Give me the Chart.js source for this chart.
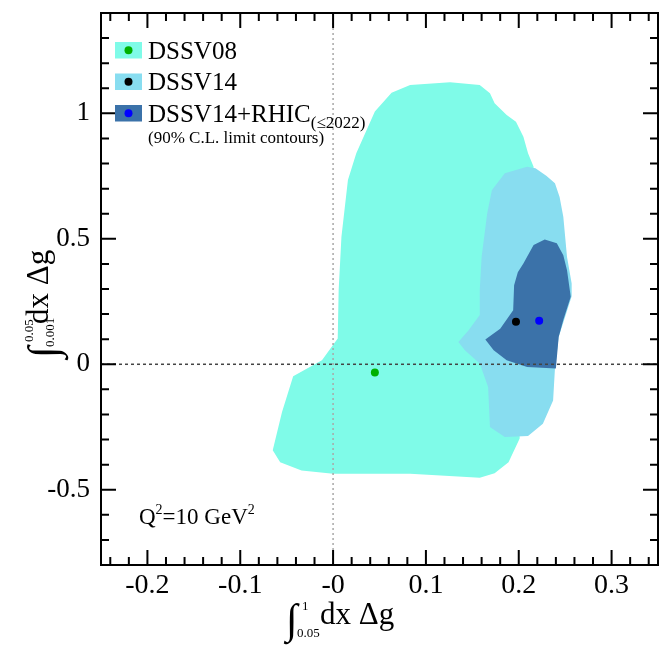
<!DOCTYPE html>
<html lang="en">
<head>
    <meta charset="UTF-8">
    <title>Gluon polarization contours</title>
    <script src="https://cdn.jsdelivr.net/npm/chart.js"></script>
    <style>
        body { margin: 0; background: #fff; }
        .chart-container { width: 672px; height: 647px; position: relative; }
    </style>
</head>
<body>
    <div class="chart-container"><canvas id="contourChart"></canvas></div>

    <script>
        // axis ticks
        const xTickValues = [-0.2, -0.1, 0, 0.1, 0.2, 0.3];
        const xTickLabels = ['-0.2', '-0.1', '-0', '0.1', '0.2', '0.3'];
        const yTickValues = [-0.5, 0, 0.5, 1];
        const yTickLabels = ['-0.5', '0', '0.5', '1'];

        // 90% C.L. contours
        const dssv08X = [0.005, 0.006, 0.009, 0.016, 0.025, 0.045, 0.063, 0.083, 0.126, 0.158, 0.169, 0.174, 0.187, 0.197, 0.205, 0.210, 0.216, 0.212, 0.201, 0.201, 0.189, 0.174, 0.158, 0.083, 0.000, -0.034, -0.057, -0.065, -0.055, -0.043, -0.012];
        const dssv08Y = [0.103, 0.295, 0.508, 0.734, 0.841, 1.007, 1.082, 1.113, 1.124, 1.113, 1.080, 1.040, 0.993, 0.967, 0.907, 0.841, 0.787, 0.455, -0.144, -0.296, -0.390, -0.434, -0.452, -0.436, -0.436, -0.423, -0.390, -0.343, -0.190, -0.048, 0.016];

        const dssv14X = [0.158, 0.158, 0.160, 0.166, 0.171, 0.185, 0.209, 0.218, 0.230, 0.239, 0.244, 0.248, 0.252, 0.257, 0.257, 0.243, 0.239, 0.237, 0.226, 0.210, 0.185, 0.169, 0.167, 0.158, 0.142, 0.135, 0.146];
        const dssv14Y = [0.196, 0.295, 0.428, 0.601, 0.694, 0.761, 0.787, 0.781, 0.750, 0.721, 0.667, 0.588, 0.428, 0.322, 0.271, 0.109, -0.017, -0.144, -0.237, -0.286, -0.290, -0.250, -0.091, 0.003, 0.056, 0.089, 0.136];

        const rhicX = [0.180, 0.194, 0.195, 0.199, 0.205, 0.216, 0.228, 0.241, 0.248, 0.252, 0.256, 0.248, 0.243, 0.240, 0.209, 0.187, 0.173, 0.164];
        const rhicY = [0.142, 0.215, 0.315, 0.367, 0.402, 0.475, 0.497, 0.482, 0.435, 0.375, 0.269, 0.176, 0.109, -0.017, -0.011, 0.016, 0.056, 0.099];

        // central values
        const dssv08Best = [0.045, -0.033];
        const dssv14Best = [0.197, 0.169];
        const rhicBest = [0.222, 0.173];

        const serif = '"Liberation Serif", "Times New Roman", serif';
        const colors = {
            dssv08: '#7ffbe8',
            dssv14: '#88ddf0',
            rhic: '#3b72a9'
        };

        function polygon(xs, ys) {
            const pts = xs.map((x, i) => ({x: x, y: ys[i]}));
            pts.push({x: xs[0], y: ys[0]});
            return pts;
        }

        function contour(label, xs, ys, color) {
            return {
                label: label,
                data: polygon(xs, ys),
                showLine: true,
                fill: 'shape',
                backgroundColor: color,
                borderColor: 'rgba(0,0,0,0)',
                borderWidth: 0,
                pointRadius: 0,
                tension: 0
            };
        }

        function bestPoint(label, p, color) {
            return {
                label: label,
                data: [{x: p[0], y: p[1]}],
                pointRadius: 4,
                pointBackgroundColor: color,
                pointBorderWidth: 0,
                borderColor: color
            };
        }

        function drawIntegralTitle(ctx, upper, lower, upperDy, lowerDy) {
            ctx.fillStyle = '#000';
            ctx.textAlign = 'left';
            ctx.textBaseline = 'alphabetic';
            ctx.font = '42px ' + serif;
            ctx.fillText('\u222B', -1, 9);
            ctx.font = '13px ' + serif;
            ctx.fillText(upper, 15, upperDy);
            ctx.fillText(lower, 10, lowerDy);
            ctx.font = '31px ' + serif;
            ctx.fillText('dx \u0394g', 33, 0);
        }

        const decorations = {
            id: 'decorations',
            afterDatasetsDraw(chart) {
                const {ctx, chartArea: a, scales: {x, y}} = chart;
                ctx.save();
                ctx.lineWidth = 1.5;
                const x0 = x.getPixelForValue(0);
                ctx.strokeStyle = '#a8a8a8';
                ctx.setLineDash([2, 3]);
                ctx.beginPath();
                ctx.moveTo(x0, a.top);
                ctx.lineTo(x0, a.bottom);
                ctx.stroke();
                const y0 = y.getPixelForValue(0);
                ctx.strokeStyle = '#444';
                ctx.setLineDash([3, 3]);
                ctx.beginPath();
                ctx.moveTo(a.left, y0);
                ctx.lineTo(a.right, y0);
                ctx.stroke();
                ctx.restore();
            },
            afterDraw(chart) {
                const {ctx, chartArea: a, scales: {x, y}} = chart;
                ctx.save();

                // frame with inward ticks on all four sides
                ctx.strokeStyle = '#000';
                ctx.lineWidth = 2;
                ctx.strokeRect(a.left, a.top, a.right - a.left, a.bottom - a.top);
                ctx.beginPath();
                for (let i = -12; i <= 17; i++) {
                    const v = i * 0.02;
                    const px = x.getPixelForValue(v);
                    const len = (i % 5 === 0) ? 15 : 8;
                    ctx.moveTo(px, a.bottom); ctx.lineTo(px, a.bottom - len);
                    ctx.moveTo(px, a.top); ctx.lineTo(px, a.top + len);
                }
                for (let i = -7; i <= 13; i++) {
                    const v = i * 0.1;
                    const py = y.getPixelForValue(v);
                    const len = (i % 5 === 0) ? 15 : 8;
                    ctx.moveTo(a.left, py); ctx.lineTo(a.left + len, py);
                    ctx.moveTo(a.right, py); ctx.lineTo(a.right - len, py);
                }
                ctx.stroke();

                // legend
                const rows = [
                    {text: 'DSSV08', fill: colors.dssv08, dot: '#00b000'},
                    {text: 'DSSV14', fill: colors.dssv14, dot: '#000'},
                    {text: 'DSSV14+RHIC', fill: colors.rhic, dot: '#0000ff'}
                ];
                const lx = a.left + 14;
                rows.forEach((r, i) => {
                    const top = a.top + 29 + i * 31.5;
                    ctx.fillStyle = r.fill;
                    ctx.fillRect(lx, top, 27, 16.5);
                    ctx.fillStyle = r.dot;
                    ctx.beginPath();
                    ctx.arc(lx + 13.5, top + 8.2, 4, 0, Math.PI * 2);
                    ctx.fill();
                    ctx.fillStyle = '#000';
                    ctx.font = '25px ' + serif;
                    ctx.textAlign = 'left';
                    ctx.textBaseline = 'alphabetic';
                    ctx.fillText(r.text, lx + 33, top + 16.5);
                    if (i === 2) {
                        const w = ctx.measureText(r.text).width;
                        ctx.font = '17px ' + serif;
                        ctx.fillText('(\u22642022)', lx + 33 + w, top + 23);
                        ctx.fillText('(90% C.L. limit contours)', lx + 33, top + 38);
                    }
                });

                // Q^2 label
                let qx = a.left + 38;
                const qy = a.bottom - 41;
                ctx.font = '23px ' + serif;
                ctx.fillText('Q', qx, qy);
                qx += ctx.measureText('Q').width;
                ctx.font = '14px ' + serif;
                ctx.fillText('2', qx, qy - 10);
                qx += ctx.measureText('2').width;
                ctx.font = '23px ' + serif;
                ctx.fillText('=10 GeV', qx, qy);
                qx += ctx.measureText('=10 GeV').width;
                ctx.font = '14px ' + serif;
                ctx.fillText('2', qx, qy - 10);

                // axis titles
                ctx.save();
                ctx.translate(a.left + 186, a.bottom + 59);
                drawIntegralTitle(ctx, '1', '0.05', -14, 13);
                ctx.restore();

                ctx.save();
                ctx.translate(a.left - 53, a.top + 344);
                ctx.rotate(-Math.PI / 2);
                drawIntegralTitle(ctx, '0.05', '0.001', -15, 6);
                ctx.restore();

                ctx.restore();
            }
        };

        const ctx = document.getElementById('contourChart').getContext('2d');
        const chart = new Chart(ctx, {
            type: 'scatter',
            data: {
                datasets: [
                    bestPoint('DSSV14+RHIC best fit', rhicBest, '#0000ff'),
                    bestPoint('DSSV14 best fit', dssv14Best, '#000000'),
                    bestPoint('DSSV08 best fit', dssv08Best, '#00b000'),
                    contour('DSSV14+RHIC', rhicX, rhicY, colors.rhic),
                    contour('DSSV14', dssv14X, dssv14Y, colors.dssv14),
                    contour('DSSV08', dssv08X, dssv08Y, colors.dssv08)
                ]
            },
            options: {
                responsive: true,
                maintainAspectRatio: false,
                animation: false,
                events: [],
                layout: { padding: { top: 13, right: 14, left: 0, bottom: 0 } },
                plugins: {
                    legend: { display: false },
                    tooltip: { enabled: false }
                },
                scales: {
                    x: {
                        type: 'linear',
                        min: -0.25,
                        max: 0.35,
                        grid: { display: false, drawTicks: false },
                        border: { display: false },
                        afterBuildTicks: (s) => { s.ticks = xTickValues.map(v => ({value: v})); },
                        afterFit: (s) => { s.height = 82; s.paddingLeft = 0; s.paddingRight = 0; },
                        ticks: {
                            autoSkip: false,
                            maxRotation: 0,
                            padding: 4,
                            color: '#000',
                            font: { family: serif, size: 28 },
                            callback: (v, i) => xTickLabels[i]
                        }
                    },
                    y: {
                        type: 'linear',
                        min: -0.8,
                        max: 1.4,
                        grid: { display: false, drawTicks: false },
                        border: { display: false },
                        afterBuildTicks: (s) => { s.ticks = yTickValues.map(v => ({value: v})); },
                        afterFit: (s) => { s.width = 101; s.paddingTop = 0; s.paddingBottom = 0; },
                        ticks: {
                            autoSkip: false,
                            padding: 11,
                            color: '#000',
                            font: { family: serif, size: 27 },
                            callback: (v, i) => yTickLabels[i]
                        }
                    }
                }
            },
            plugins: [decorations]
        });
    </script>
</body>
</html>
